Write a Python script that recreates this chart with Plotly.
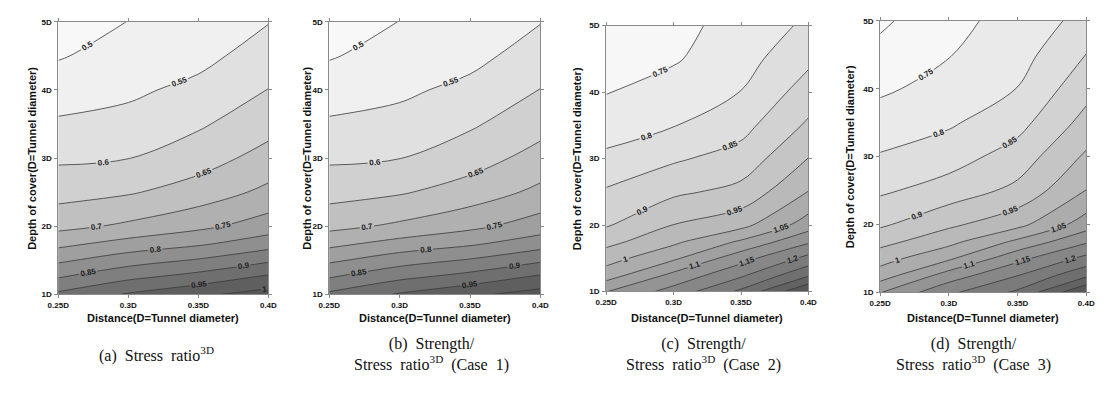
import numpy as np
import plotly.graph_objects as go

# ---- data ----
distance = [0.25, 0.30, 0.35, 0.40]
depth = [1, 1.25, 1.5, 1.75, 2, 2.5, 3, 3.5, 4, 4.5, 5]
x_ticks = [0.25, 0.30, 0.35, 0.40]
x_ticktext = ["0.25D", "0.3D", "0.35D", "0.4D"]
y_ticks = [1, 2, 3, 4, 5]
y_ticktext = ["1D", "2D", "3D", "4D", "5D"]

# (a) Stress ratio 3D : one list per distance column (depth 1D..5D)
a_025 = [0.91, 0.848, 0.791, 0.735, 0.686, 0.631, 0.592, 0.557, 0.526, 0.496, 0.467]
a_030 = [0.955, 0.89, 0.828, 0.767, 0.709, 0.645, 0.599, 0.567, 0.540, 0.520, 0.501]
a_035 = [0.99, 0.92, 0.855, 0.791, 0.738, 0.672, 0.628, 0.593, 0.564, 0.534, 0.525]
a_040 = [1.02, 0.96, 0.892, 0.826, 0.774, 0.712, 0.668, 0.632, 0.601, 0.575, 0.548]

# (b) Strength / Stress ratio 3D (Case 1)
b_025 = [0.91, 0.848, 0.791, 0.735, 0.686, 0.631, 0.592, 0.557, 0.526, 0.496, 0.467]
b_030 = [0.955, 0.89, 0.828, 0.767, 0.709, 0.645, 0.599, 0.567, 0.540, 0.520, 0.501]
b_035 = [0.99, 0.92, 0.855, 0.791, 0.738, 0.672, 0.628, 0.593, 0.564, 0.534, 0.525]
b_040 = [1.02, 0.96, 0.892, 0.826, 0.774, 0.712, 0.668, 0.632, 0.601, 0.575, 0.548]

# (c) Strength / Stress ratio 3D (Case 2)
c_025 = [1.098, 1.024, 0.979, 0.934, 0.895, 0.856, 0.810, 0.777, 0.748, 0.718, 0.705]
c_030 = [1.17, 1.112, 1.041, 0.989, 0.951, 0.890, 0.843, 0.798, 0.770, 0.745, 0.738]
c_035 = [1.26, 1.19, 1.13, 1.057, 0.984, 0.915, 0.870, 0.833, 0.801, 0.78, 0.765]
c_040 = [1.40, 1.291, 1.215, 1.142, 1.075, 1.001, 0.951, 0.908, 0.873, 0.839, 0.81]

# (d) Strength / Stress ratio 3D (Case 3)
d_025 = [1.098, 1.025, 0.979, 0.933, 0.892, 0.842, 0.804, 0.772, 0.742, 0.716, 0.69]
d_030 = [1.19, 1.123, 1.042, 0.984, 0.940, 0.872, 0.828, 0.793, 0.768, 0.748, 0.738]
d_035 = [1.26, 1.199, 1.135, 1.06, 0.985, 0.913, 0.872, 0.833, 0.801, 0.78, 0.765]
d_040 = [1.40, 1.29, 1.215, 1.142, 1.075, 1.001, 0.958, 0.917, 0.883, 0.851, 0.818]

captions = [
    "(a)  Stress  ratio<sup>3D</sup>",
    "(b)  Strength/<br>Stress  ratio<sup>3D</sup>  (Case  1)",
    "(c)  Strength/<br>Stress  ratio<sup>3D</sup>  (Case  2)",
    "(d)  Strength/<br>Stress  ratio<sup>3D</sup>  (Case  3)",
]

panels = [
    (np.column_stack([a_025, a_030, a_035, a_040]), 0.5, 1.0, 0.5, 1.0),
    (np.column_stack([b_025, b_030, b_035, b_040]), 0.5, 1.0, 0.5, 1.0),
    (np.column_stack([c_025, c_030, c_035, c_040]), 0.7, 1.4, 0.72, 1.38),
    (np.column_stack([d_025, d_030, d_035, d_040]), 0.7, 1.4, 0.72, 1.38),
]

# plot-area positions in pixels (left, right, top, bottom)
W, H = 1104, 395
boxes = [(40, 254, 10, 289), (316, 531, 10, 289), (598, 804, 14, 286), (877, 1087, 9, 287)]
ytitle_x = [13, 293, 568, 846]
xtitle_y = [313, 313, 313, 313]
caption_x = [140, 420, 697, 972]
caption_y = [350, 350, 350, 350]

fig = go.Figure()
gray_scale = [[0, "#f8f8f8"], [1, "#575757"]]

for i, (z, start, end, zmin, zmax) in enumerate(panels):
    n = "" if i == 0 else str(i + 1)
    fig.add_trace(go.Contour(
        x=distance, y=depth, z=z,
        xaxis="x" + n, yaxis="y" + n,
        colorscale=gray_scale, zmin=zmin, zmax=zmax, showscale=False,
        contours=dict(start=start, end=end, size=0.05, coloring="fill",
                      showlabels=True, labelformat=".3~g",
                      labelfont=dict(size=8, color="#222222", family="Liberation Sans", weight=700)),
        line=dict(color="#3a3a3a", width=0.8, smoothing=1),
        hoverinfo="skip",
    ))
    l, r, t, b = boxes[i]
    dom_x = [l / W, r / W]
    dom_y = [1 - b / H, 1 - t / H]
    axis_common = dict(showline=True, linecolor="#8a8a8a", linewidth=1, mirror="ticks",
                       ticks="outside", ticklen=3, tickcolor="#8a8a8a", showgrid=False,
                       zeroline=False,
                       tickfont=dict(size=8, family="Liberation Sans", color="#111111", weight=700))
    fig.update_layout(**{
        "xaxis" + n: dict(domain=dom_x, range=[0.25, 0.40], tickvals=x_ticks, ticktext=x_ticktext,
                          anchor="y" + n, ticklabelstandoff=0, **axis_common),
        "yaxis" + n: dict(domain=dom_y, range=[1, 5], tickvals=y_ticks, ticktext=y_ticktext,
                          anchor="x" + n, ticklabelstandoff=1, **axis_common),
    })
    cx = (l + r) / 2
    fig.add_annotation(x=cx / W, y=1 - xtitle_y[i] / H, xref="paper", yref="paper",
                       xanchor="center", yanchor="middle",
                       text="Distance(D=Tunnel diameter)", showarrow=False,
                       font=dict(size=11, family="Liberation Sans", color="#111111", weight=700))
    fig.add_annotation(x=ytitle_x[i] / W, y=1 - ((t + b) / 2) / H, xref="paper", yref="paper",
                       xanchor="center", yanchor="middle",
                       text="Depth of cover(D=Tunnel diameter)", showarrow=False, textangle=-90,
                       font=dict(size=11, family="Liberation Sans", color="#111111", weight=700))
    fig.add_annotation(x=caption_x[i] / W, y=1 - caption_y[i] / H, xref="paper", yref="paper",
                       xanchor="center", yanchor="middle",
                       text=captions[i], showarrow=False, align="center",
                       font=dict(size=16, family="Liberation Serif", color="#111111"))

fig.update_layout(width=W, height=H, margin=dict(l=0, r=0, t=0, b=0),
                  paper_bgcolor="white", plot_bgcolor="white", showlegend=False)

fig.write_html("out.html")
